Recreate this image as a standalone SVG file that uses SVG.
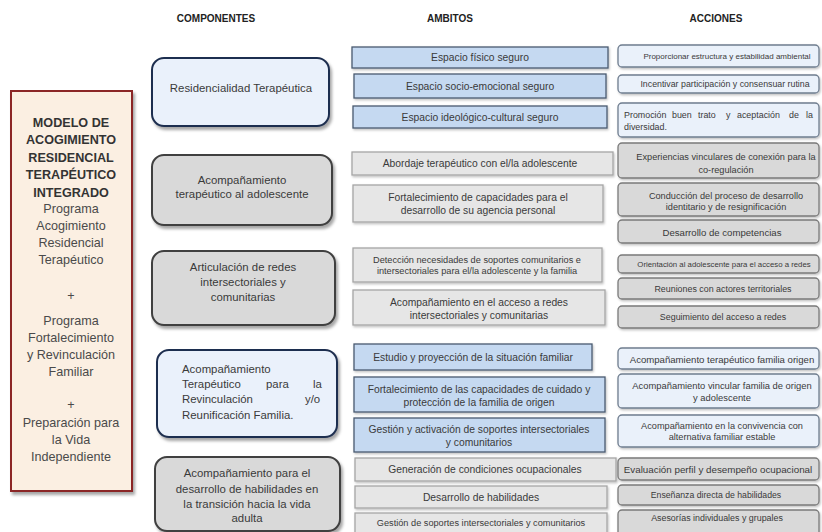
<svg xmlns="http://www.w3.org/2000/svg" width="822" height="532" viewBox="0 0 822 532">
<defs>
<filter id="sh" x="-10%" y="-10%" width="130%" height="140%">
<feDropShadow dx="2" dy="3" stdDeviation="1.5" flood-color="#000" flood-opacity="0.35"/>
</filter>
<filter id="sh2" x="-10%" y="-10%" width="130%" height="140%">
<feDropShadow dx="1" dy="1.5" stdDeviation="0.8" flood-color="#000" flood-opacity="0.25"/>
</filter>
</defs>
<style>
text{font-family:"Liberation Sans",Arial,sans-serif;fill:#3a3a3a;text-anchor:middle;dominant-baseline:central}
.h{font-weight:bold;font-size:10px;fill:#222}
.lb{font-weight:bold;font-size:12.6px;fill:#333}
.lr{font-size:12.6px;fill:#4a4a4a}
.c{font-size:11.4px}
.a{font-size:10.3px}
.as{font-size:9.2px}
.s{font-size:8.9px}
.st{text-anchor:start}
.cb{fill:#eaf1fb;stroke:#1f2f4f;stroke-width:2}
.cg{fill:#d9d9d9;stroke:#3f3f3f;stroke-width:2}
.ab{fill:#c5d9f1;stroke:#4a5a70;stroke-width:1.3}
.ag{fill:#e6e6e6;stroke:#a6a6a6;stroke-width:1.3}
.xb{fill:#eaf1fa;stroke:#6f7d8f;stroke-width:1.3}
.xg{fill:#d9d9d9;stroke:#7a7a7a;stroke-width:1.3}
</style>
<rect width="822" height="532" fill="#fff"/>

<g id="headers">
<text class="h" x="216" y="18">COMPONENTES</text>
<text class="h" x="450" y="18">AMBITOS</text>
<text class="h" x="716" y="18">ACCIONES</text>
</g>

<g id="modelo">
<rect x="11" y="91" width="121" height="400" fill="#fbefe2" stroke="#8b2525" stroke-width="2" filter="url(#sh)"/>
<text class="lb" x="71" y="123">MODELO DE</text>
<text class="lb" x="71" y="140">ACOGIMIENTO</text>
<text class="lb" x="71" y="158">RESIDENCIAL</text>
<text class="lb" x="71" y="175">TERAPÉUTICO</text>
<text class="lb" x="71" y="193">INTEGRADO</text>
<text class="lr" x="71" y="209">Programa</text>
<text class="lr" x="71" y="226">Acogimiento</text>
<text class="lr" x="71" y="243">Residencial</text>
<text class="lr" x="71" y="260">Terapéutico</text>
<text class="lr" x="71" y="296">+</text>
<text class="lr" x="71" y="321">Programa</text>
<text class="lr" x="71" y="338">Fortalecimiento</text>
<text class="lr" x="71" y="355">y Revinculación</text>
<text class="lr" x="71" y="372">Familiar</text>
<text class="lr" x="71" y="405">+</text>
<text class="lr" x="71" y="423">Preparación para</text>
<text class="lr" x="71" y="440">la Vida</text>
<text class="lr" x="71" y="457">Independiente</text>
</g>

<g id="comp1">
<rect class="cb" x="152" y="58" width="177" height="68" rx="12" filter="url(#sh)"/>
<text class="c" x="241" y="88">Residencialidad Terapéutica</text>
</g>
<g id="comp2">
<rect class="cg" x="152" y="155" width="180" height="70" rx="12" filter="url(#sh)"/>
<text class="c" x="242" y="180">Acompañamiento</text>
<text class="c" x="242" y="194">terapéutico al adolescente</text>
</g>
<g id="comp3">
<rect class="cg" x="152" y="251" width="183" height="74" rx="12" filter="url(#sh)"/>
<text class="c" x="243" y="267">Articulación de redes</text>
<text class="c" x="243" y="282">intersectoriales y</text>
<text class="c" x="243" y="297">comunitarias</text>
</g>
<g id="comp4">
<rect class="cb" x="157" y="350" width="180" height="87" rx="12" filter="url(#sh)"/>
<text class="c st" x="182" y="369">Acompañamiento</text>
<text class="c st" x="182" y="384">Terapéutico</text>
<text class="c st" x="266" y="384">para</text>
<text class="c st" x="313" y="384">la</text>
<text class="c st" x="182" y="399">Revinculación</text>
<text class="c st" x="305" y="399">y/o</text>
<text class="c st" x="182" y="415">Reunificación Familia.</text>
</g>
<g id="comp5">
<rect class="cg" x="155" y="457" width="185" height="74" rx="12" filter="url(#sh)"/>
<text class="c" x="247" y="473">Acompañamiento para el</text>
<text class="c" x="247" y="489">desarrollo de habilidades en</text>
<text class="c" x="247" y="504">la transición hacia la vida</text>
<text class="c" x="247" y="518">adulta</text>
</g>

<g id="ambitos">
<g id="amb1"><rect class="ab" x="352" y="47" width="256" height="21" filter="url(#sh2)"/><text class="a" x="480" y="57.5">Espacio físico seguro</text></g>
<g id="amb2"><rect class="ab" x="354" y="74" width="252" height="24" filter="url(#sh2)"/><text class="a" x="480" y="86">Espacio socio-emocional seguro</text></g>
<g id="amb3"><rect class="ab" x="353" y="106" width="254" height="22" filter="url(#sh2)"/><text class="a" x="480" y="117">Espacio ideológico-cultural seguro</text></g>
<g id="amb4"><rect class="ag" x="352" y="152" width="261" height="23" filter="url(#sh2)"/><text class="a" x="480" y="163.5">Abordaje terapéutico con el/la adolescente</text></g>
<g id="amb5"><rect class="ag" x="353" y="185" width="250" height="37" filter="url(#sh2)"/><text class="a" x="478" y="197">Fortalecimiento de capacidades para el</text><text class="a" x="478" y="210">desarrollo de su agencia personal</text></g>
<g id="amb6"><rect class="ag" x="353" y="248" width="249" height="34" filter="url(#sh2)"/><text class="as" x="477" y="259.5">Detección necesidades de soportes comunitarios e</text><text class="as" x="477" y="271">intersectoriales para el/la adolescente y la familia</text></g>
<g id="amb7"><rect class="ag" x="353" y="290" width="252" height="35" filter="url(#sh2)"/><text class="a" x="479" y="302.5">Acompañamiento en el acceso a redes</text><text class="a" x="479" y="315.5">intersectoriales y comunitarias</text></g>
<g id="amb8"><rect class="ab" x="354" y="344" width="238" height="26" filter="url(#sh2)"/><text class="a" x="473" y="357">Estudio y proyección de la situación familiar</text></g>
<g id="amb9"><rect class="ab" x="354" y="377" width="251" height="35" filter="url(#sh2)"/><text class="a" x="479" y="389.5">Fortalecimiento de las capacidades de cuidado y</text><text class="a" x="479" y="402.5">protección de la familia de origen</text></g>
<g id="amb10"><rect class="ab" x="354" y="418" width="251" height="34" filter="url(#sh2)"/><text class="a" x="479" y="429.5">Gestión y activación de soportes intersectoriales</text><text class="a" x="479" y="442">y comunitarios</text></g>
<g id="amb11"><rect class="ag" x="355" y="458" width="261" height="23" filter="url(#sh2)"/><text class="a" x="485" y="469.5">Generación de condiciones ocupacionales</text></g>
<g id="amb12"><rect class="ag" x="355" y="486" width="252" height="22" filter="url(#sh2)"/><text class="a" x="481" y="497.5">Desarrollo de habilidades</text></g>
<g id="amb13"><rect class="ag" x="355" y="513" width="252" height="24" filter="url(#sh2)"/><text class="as" x="481" y="522.5">Gestión de soportes intersectoriales y comunitarios</text></g>
</g>

<g id="acciones">
<g id="acc1"><rect class="xb" x="618" y="45" width="201" height="22" rx="4" filter="url(#sh2)"/><text class="s" x="727" y="56" style="font-size:8px">Proporcionar estructura y estabilidad ambiental</text></g>
<g id="acc2"><rect class="xb" x="618" y="75" width="201" height="18" rx="4" filter="url(#sh2)"/><text class="s" x="725" y="84" style="font-size:8.8px">Incentivar participación y consensuar rutina</text></g>
<g id="acc3"><rect class="xb" x="618" y="103" width="201" height="34" rx="4" filter="url(#sh2)"/>
<text class="s st" x="624" y="115">Promoción</text><text class="s st" x="672" y="115">buen</text><text class="s st" x="698" y="115">trato</text><text class="s st" x="726" y="115">y</text><text class="s st" x="737" y="115">aceptación</text><text class="s st" x="789" y="115">de</text><text class="s st" x="806" y="115">la</text>
<text class="s st" x="624" y="127">diversidad.</text></g>
<g id="acc4"><rect class="xg" x="618" y="143" width="201" height="35" rx="4" filter="url(#sh2)"/><text class="s" x="726" y="157" style="font-size:9.2px">Experiencias vinculares de conexión para la</text><text class="s" x="726" y="170" style="font-size:9.2px">co-regulación</text></g>
<g id="acc5"><rect class="xg" x="618" y="183" width="201" height="33" rx="4" filter="url(#sh2)"/><text class="s" x="726" y="195.5" style="font-size:9.2px">Conducción del proceso de desarrollo</text><text class="s" x="726" y="207" style="font-size:9.2px">identitario y de resignificación</text></g>
<g id="acc6"><rect class="xg" x="618" y="220" width="201" height="23" rx="4" filter="url(#sh2)"/><text class="s" x="722" y="232" style="font-size:9.6px">Desarrollo de competencias</text></g>
<g id="acc7"><rect class="xg" x="618" y="255" width="201" height="18" rx="4" filter="url(#sh2)"/><text class="s" x="724" y="264.5" style="font-size:7.8px">Orientación al adolescente para el acceso a redes</text></g>
<g id="acc8"><rect class="xg" x="618" y="278" width="201" height="21" rx="4" filter="url(#sh2)"/><text class="s" x="723" y="289">Reuniones con actores territoriales</text></g>
<g id="acc9"><rect class="xg" x="618" y="306" width="201" height="22" rx="4" filter="url(#sh2)"/><text class="s" x="723" y="317">Seguimiento del acceso a redes</text></g>
<g id="acc10"><rect class="xb" x="618" y="348" width="201" height="21" rx="4" filter="url(#sh2)"/><text class="s" x="722" y="359" style="font-size:9.6px">Acompañamiento terapéutico familia origen</text></g>
<g id="acc11"><rect class="xb" x="618" y="374" width="201" height="34" rx="4" filter="url(#sh2)"/><text class="s" x="722" y="385.5" style="font-size:9.4px">Acompañamiento vincular familia de origen</text><text class="s" x="722" y="397.5" style="font-size:9.4px">y adolescente</text></g>
<g id="acc12"><rect class="xb" x="618" y="415" width="201" height="32" rx="4" filter="url(#sh2)"/><text class="s" x="722" y="425.5" style="font-size:9.2px">Acompañamiento en la convivencia con</text><text class="s" x="722" y="437" style="font-size:9.2px">alternativa familiar estable</text></g>
<g id="acc13"><rect class="xg" x="618" y="458" width="201" height="22" rx="4" filter="url(#sh2)"/><text class="s" x="718" y="469" style="font-size:9.8px">Evaluación perfil y desempeño ocupacional</text></g>
<g id="acc14"><rect class="xg" x="618" y="485" width="201" height="20" rx="4" filter="url(#sh2)"/><text class="s" x="716" y="495" style="font-size:8.7px">Enseñanza directa de habilidades</text></g>
<g id="acc15"><rect class="xg" x="618" y="510" width="201" height="26" rx="4" filter="url(#sh2)"/><text class="s" x="717" y="518">Asesorías individuales y grupales</text></g>
</g>
<g id="connectors"></g>
</svg>
